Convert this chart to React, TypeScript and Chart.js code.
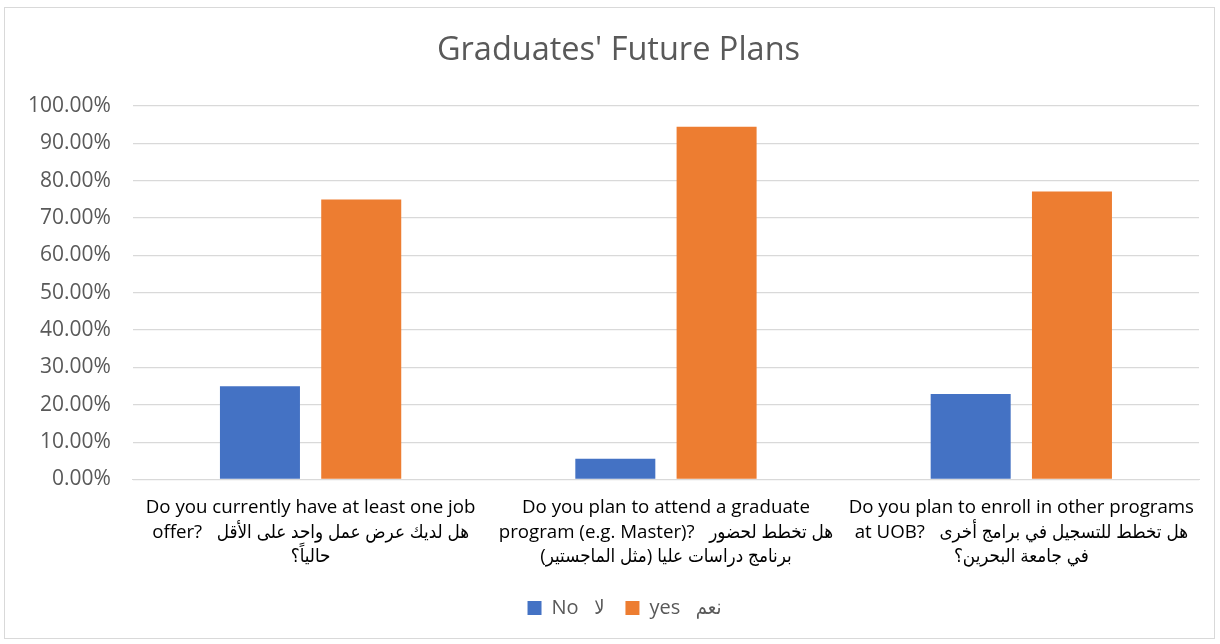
import React, { useEffect, useRef } from "react";
import { Chart, registerables } from "chart.js";

Chart.register(...registerables);

const categories: string[][] = [
  ["Do you currently have at least one job", "offer?   هل لديك عرض عمل واحد على الأقل", "حالياً؟"],
  ["Do you plan to attend a graduate", "program (e.g. Master)?   هل تخطط لحضور", "برنامج دراسات عليا (مثل الماجستير)"],
  ["Do you plan to enroll in other programs", "at UOB?   هل تخطط للتسجيل في برامج أخرى", "في جامعة البحرين؟"],
];
const seriesNames = ["No   لا", "yes   نعم"];
const noValues = [25, 5.56, 22.86];
const yesValues = [75, 94.44, 77.14];
const yTickMax = 100;
const yTickStep = 10;

const FONT = "'Open Sans', 'DejaVu Sans Condensed', 'DejaVu Sans', sans-serif";

const shiftBoxes = {
  id: "shiftBoxes",
  afterLayout(chart: any) {
    const t = chart.titleBlock;
    if (t) {
      t.left += 16;
      t.right += 16;
    }
    const l = chart.legend;
    if (l) {
      l.left += 22;
      l.right += 22;
    }
  },
};

export default function App() {
  const ref = useRef<HTMLCanvasElement | null>(null);
  useEffect(() => {
    if (!ref.current) return;
    const chart = new Chart(ref.current, {
      type: "bar",
      data: {
        labels: categories,
        datasets: [
          { label: seriesNames[0], data: noValues, backgroundColor: "#4472C4", categoryPercentage: 0.57, barPercentage: 0.79 },
          { label: seriesNames[1], data: yesValues, backgroundColor: "#ED7D31", categoryPercentage: 0.57, barPercentage: 0.79 },
        ],
      },
      plugins: [shiftBoxes],
      options: {
        responsive: false,
        animation: false,
        layout: { padding: { left: 6, right: 21, top: 10, bottom: 16 } },
        plugins: {
          title: {
            display: true,
            text: "Graduates' Future Plans",
            color: "#595959",
            font: { family: FONT, size: 32.5, weight: "normal" },
            padding: { top: 21, bottom: 36 },
          },
          legend: {
            position: "bottom",
            labels: {
              color: "#595959",
              font: { family: FONT, size: 20 },
              boxWidth: 14,
              boxHeight: 14,
              padding: 21,
            },
          },
          tooltip: { enabled: false },
        },
        scales: {
          x: {
            grid: { display: false },
            border: { color: "#d9d9d9", width: 1 },
            ticks: {
              color: "#000000",
              font: { family: FONT, size: 18.7, lineHeight: 1.31 },
              maxRotation: 0,
              autoSkip: false,
              padding: 8,
            },
          },
          y: {
            min: 0,
            max: yTickMax,
            grid: { color: "#d9d9d9", lineWidth: 1.3, drawTicks: false },
            border: { display: false },
            ticks: {
              stepSize: yTickStep,
              color: "#595959",
              font: { family: FONT, size: 21 },
              padding: 22,
              callback: (v: any) => `${Number(v).toFixed(2)}%`,
            },
          },
        },
      },
    });
    return () => chart.destroy();
  }, []);
  return (
    <div style={{ position: "fixed", left: 0, top: 0, width: 1220, height: 644, background: "#fff" }}>
      <div style={{ position: "absolute", left: 4, top: 7, width: 1211, height: 632, border: "1px solid #d9d9d9", boxSizing: "border-box" }} />
      <canvas ref={ref} width={1220} height={644} style={{ position: "absolute", left: 0, top: 0, display: "block" }} />
    </div>
  );
}
